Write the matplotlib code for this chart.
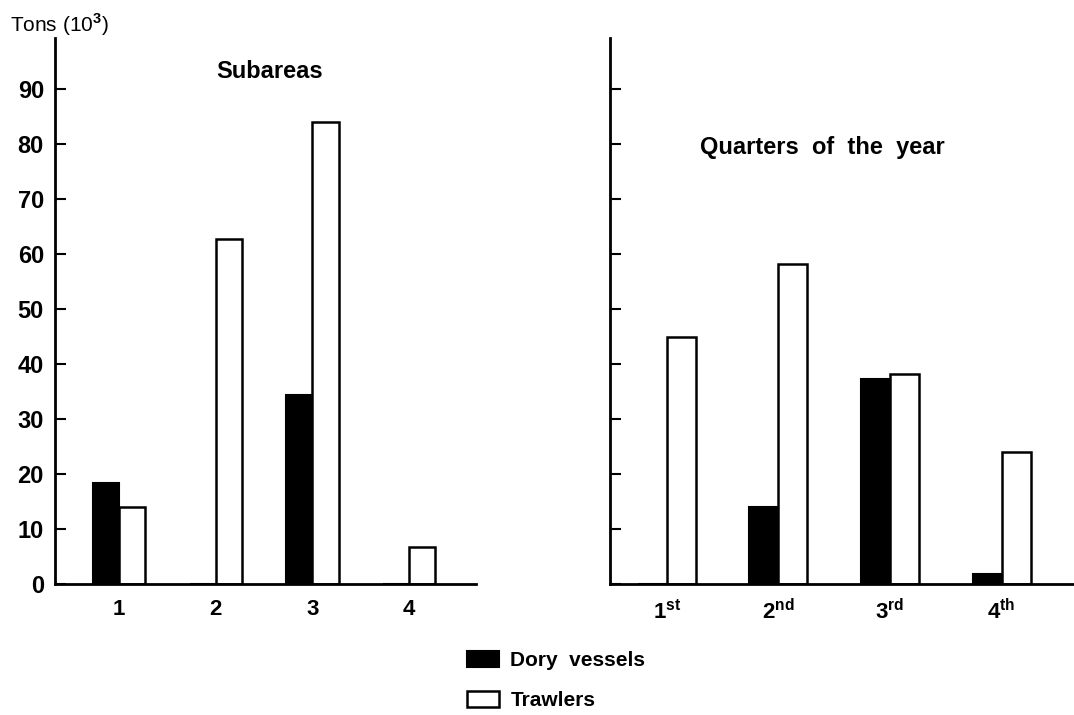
import matplotlib
matplotlib.use("Agg")
import matplotlib.pyplot as plt
import numpy as np

# data (thousand tons)
subareas = ["1", "2", "3", "4"]
sub_dory = [18.3, 0, 34.3, 0]
sub_trawl = [14.0, 62.8, 84.0, 6.7]

quarters = [r"1$^{\mathbf{st}}$", r"2$^{\mathbf{nd}}$", r"3$^{\mathbf{rd}}$", r"4$^{\mathbf{th}}$"]
qtr_dory = [0, 14.0, 37.2, 1.8]
qtr_trawl = [45.0, 58.2, 38.2, 24.0]

yticks = [0, 10, 20, 30, 40, 50, 60, 70, 80, 90]

plt.rcParams["font.family"] = ["Liberation Sans", "DejaVu Sans"]
plt.rcParams["font.weight"] = "bold"
plt.rcParams["mathtext.fontset"] = "custom"
plt.rcParams["mathtext.bf"] = "Liberation Sans:bold"
plt.rcParams["mathtext.rm"] = "Liberation Sans"

W, H = 1074, 715
fig = plt.figure(figsize=(W / 100, H / 100), dpi=100)

y0_px, ytop_px = 584, 38
ymax = (y0_px - ytop_px) / 5.5
bottom = 1 - y0_px / H
height = (y0_px - ytop_px) / H

ax1 = fig.add_axes([55 / W, bottom, (476 - 55) / W, height])
ax2 = fig.add_axes([610 / W, bottom, (1074 - 610) / W, height])


def _panel(ax, labels, dory, trawl, width, xlim):
    x = np.arange(1, len(labels) + 1)
    b1 = ax.bar(x - width, dory, width, align="edge", color="black",
                edgecolor="black", linewidth=1.5)
    b2 = ax.bar(x, trawl, width, align="edge", color="white",
                edgecolor="black", linewidth=1.8)
    ax.set_xlim(*xlim)
    ax.set_ylim(0, ymax)
    ax.set_xticks(x)
    ax.set_xticklabels(labels, fontsize=16, fontweight="bold")
    ax.tick_params(axis="x", length=0, pad=11)
    ax.set_yticks(yticks)
    ax.tick_params(axis="y", direction="in", length=8, width=1.5, pad=8)
    for s in ["top", "right"]:
        ax.spines[s].set_visible(False)
    for s in ["left", "bottom"]:
        ax.spines[s].set_linewidth(2)
    return b1, b2


h1, h2 = _panel(ax1, subareas, sub_dory, sub_trawl, 0.27, (0.34, 4.69))
ax1.set_yticklabels([str(v) for v in yticks], fontsize=17, fontweight="bold")
ax1.text(0.51, 0.938, "Subareas", transform=ax1.transAxes, ha="center",
         va="center", fontsize=17, fontweight="bold")

_panel(ax2, quarters, qtr_dory, qtr_trawl, 0.26, (0.49, 4.65))
ax2.set_yticklabels([])
ax2.text(0.457, 0.80, "Quarters  of  the  year", transform=ax2.transAxes,
         ha="center", va="center", fontsize=17, fontweight="bold")

fig.text(10 / W, 1 - 25 / H, r"Tons (10$^{\mathrm{3}}$)", fontsize=15,
         fontweight="normal", ha="left", va="center")

fig.legend([h1, h2], ["Dory  vessels", "Trawlers"], loc="upper left",
           bbox_to_anchor=(452 / W, 1 - 636 / H), frameon=False,
           fontsize=15, handlelength=1.55, handleheight=0.8,
           handletextpad=0.55, labelspacing=1.0, borderaxespad=0.3)

fig.savefig("out.png", dpi=100)
